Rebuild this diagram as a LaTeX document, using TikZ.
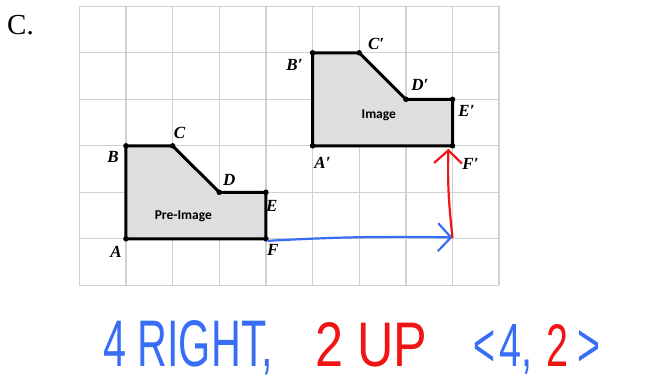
\documentclass[tikz,border=0pt]{standalone}
\usepackage{fontspec}
\setmainfont{Liberation Serif}
\newfontfamily\calfont{Carlito}
\newfontfamily\handfont{Liberation Sans}
\usetikzlibrary{arrows.meta}
\definecolor{gridgray}{RGB}{208,208,208}
\definecolor{shapefill}{RGB}{222,222,222}
\definecolor{hblue}{RGB}{55,110,245}
\definecolor{hred}{RGB}{240,20,20}
\tikzset{
  gridline/.style={draw=gridgray, line width=1.3pt},
  figshape/.style={fill=shapefill, draw=black, line width=3pt},
  vdot/.style={circle, fill=black, inner sep=0pt, minimum size=5.5pt},
  lbl/.style={inner sep=0pt, font=\fontsize{17}{17}\selectfont\bfseries\itshape},
  inlbl/.style={inner sep=0pt, font=\fontsize{13.5}{13.5}\selectfont\calfont\bfseries},
  harrow/.style={line width=2.2pt, line cap=round, line join=round, -{Straight Barb[length=13pt,width=28pt,line width=2.2pt]}},
  hand/.style={inner sep=0pt, anchor=base west, font=\handfont\fontsize{40}{40}\selectfont}
}
\begin{document}
\begin{tikzpicture}[x=1pt,y=-1pt]
\useasboundingbox (0,0) rectangle (652,384);
\node[anchor=base west, inner sep=0pt, font=\fontsize{29}{29}\selectfont] (title) at (7,34) {C.};
\begin{scope}[shift={(79.3,285.3)}, x=46.65pt, y=46.5pt]
  \draw[gridline, step=1] (0,0) grid (9,6);
  \coordinate (A) at (1,1);
  \coordinate (B) at (1,3);
  \coordinate (C) at (2,3);
  \coordinate (D) at (3,2);
  \coordinate (E) at (4,2);
  \coordinate (F) at (4,1);
  \coordinate (A') at (5,3);
  \coordinate (B') at (5,5);
  \coordinate (C') at (6,5);
  \coordinate (D') at (7,4);
  \coordinate (E') at (8,4);
  \coordinate (F') at (8,3);
  \coordinate (Fs) at (8,1.03);
  \path[figshape] (A) -- (B) -- (C) -- (D) -- (E) -- (F) -- cycle;
  \path[figshape] (A') -- (B') -- (C') -- (D') -- (E') -- (F') -- cycle;
  \foreach \p in {A,B,C,D,E,F,A',B',C',D',E',F'} {\node[vdot] (dot\p) at (\p) {};}
  \node[inlbl] (pre) at (2.23,1.48) {Pre-Image};
  \node[inlbl] (img) at (6.42,3.66) {Image};
\end{scope}
\node[lbl] (lA) at ([shift={(-10pt,-13pt)}]A) {A};
\node[lbl] (lB) at ([shift={(-13pt,-11pt)}]B) {B};
\node[lbl] (lC) at ([shift={(7pt,13pt)}]C) {C};
\node[lbl] (lD) at ([shift={(10pt,12pt)}]D) {D};
\node[lbl] (lE) at ([shift={(6pt,-14pt)}]E) {E};
\node[lbl] (lF) at ([shift={(7pt,-11pt)}]F) {F};
\node[lbl] (lA') at ([shift={(10pt,-17pt)}]A') {A′};
\node[lbl] (lB') at ([shift={(-18pt,-12pt)}]B') {B′};
\node[lbl] (lC') at ([shift={(17pt,9pt)}]C') {C′};
\node[lbl] (lD') at ([shift={(14pt,14pt)}]D') {D′};
\node[lbl] (lE') at ([shift={(14pt,-12pt)}]E') {E′};
\node[lbl] (lF') at ([shift={(18pt,-18pt)}]F') {F′};
\draw[harrow, hblue] ([shift={(2pt,-2pt)}]F) to[bend left=2] (Fs);
\draw[harrow, hred, shorten >=3pt] (Fs) to[bend left=4] ([shift={(-4pt,0pt)}]F');
\node[hand, text=hblue] (t1) at (103,366) {\resizebox{170pt}{46pt}{4 RIGHT,}};
\node[hand, text=hred] (t2) at (315,366) {\resizebox{112pt}{44pt}{2 UP}};
\node[hand, text=hblue] (t3) at (473,366) {\resizebox{22pt}{36pt}{<}};
\node[hand, text=hblue] (t4) at (499,366) {\resizebox{33pt}{42pt}{4,}};
\node[hand, text=hred] (t5) at (546,366) {\resizebox{22pt}{42pt}{2}};
\node[hand, text=hblue] (t6) at (577,366) {\resizebox{23pt}{36pt}{>}};
\end{tikzpicture}
\end{document}
